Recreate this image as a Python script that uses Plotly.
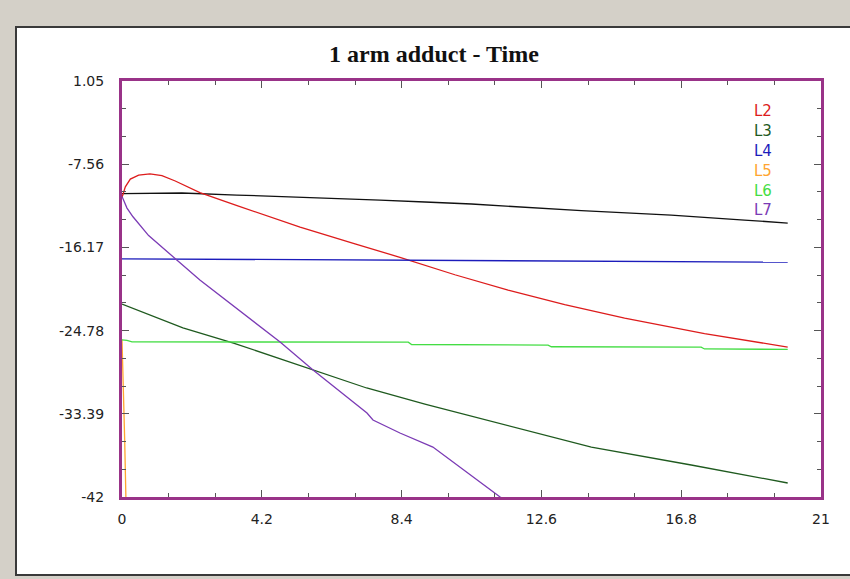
import plotly.graph_objects as go

# ---- data ----
x_tick_vals = [0, 4.2, 8.4, 12.6, 16.8, 21]
x_tick_text = ["0", "4.2", "8.4", "12.6", "16.8", "21"]
y_tick_vals = [1.05, -7.56, -16.17, -24.78, -33.39, -42]
y_tick_text = ["1.05", "-7.56", "-16.17", "-24.78", "-33.39", "-42"]

l1_x = [0, 1.8, 3.45, 5.35, 7.75, 9.1, 10.5, 13.8, 16.5, 18.7, 20.0]
l1_y = [-10.6, -10.54, -10.75, -10.96, -11.27, -11.47, -11.68, -12.37, -12.82, -13.34, -13.65]

l2_x = [0, 0.1, 0.25, 0.5, 0.84, 1.2, 1.6, 2.0, 2.34, 3.5, 5.35, 7.0, 8.35, 10.0, 11.6, 13.3, 15.1, 17.5, 20.0]
l2_y = [-11.0, -9.9, -9.1, -8.7, -8.57, -8.75, -9.3, -9.95, -10.5, -11.9, -14.06, -15.8, -17.2, -19.0, -20.58, -22.1, -23.48, -25.1, -26.48]

l3_x = [0, 1.83, 3.35, 5.65, 7.35, 9.1, 11.5, 14.1, 17.1, 20.0]
l3_y = [-22.03, -24.5, -26.07, -28.7, -30.72, -32.4, -34.55, -36.83, -38.69, -40.55]

l4_x = [0, 6.8, 16.1, 20.0]
l4_y = [-17.35, -17.45, -17.6, -17.7]

l5_x = [0, 0.04, 0.08, 0.12]
l5_y = [-25.7, -30.0, -36.0, -42.5]

l6_x = [0, 0.15, 0.3, 8.6, 8.7, 12.8, 12.9, 17.4, 17.5, 20.0]
l6_y = [-25.75, -25.8, -25.95, -25.97, -26.22, -26.28, -26.45, -26.5, -26.68, -26.72]

l7_x = [0, 0.15, 0.33, 0.63, 0.8, 2.34, 2.73, 4.75, 5.74, 7.36, 7.54, 8.35, 9.34, 10.36, 11.36, 11.8]
l7_y = [-10.9, -12.1, -13.0, -14.2, -14.95, -19.54, -20.58, -25.96, -28.86, -33.31, -34.03, -35.38, -36.83, -39.41, -42.0, -42.9]

series = [
    ("L1", l1_x, l1_y, "#111111", False),
    ("L2", l2_x, l2_y, "#dd1c1c", True),
    ("L3", l3_x, l3_y, "#1f5a1f", True),
    ("L4", l4_x, l4_y, "#1c1cbb", True),
    ("L5", l5_x, l5_y, "#ffa530", True),
    ("L6", l6_x, l6_y, "#44dd44", True),
    ("L7", l7_x, l7_y, "#7b3bb5", True),
]

# ---- layout geometry (pixels) ----
W, H = 850, 579
PL, PR, PT, PB = 122, 821, 81, 497


def px_x(px):
    return (px - PL) / (PR - PL)


def px_y(py):
    return (PB - py) / (PB - PT)


fig = go.Figure()
for name, xs, ys, col, _ in series:
    fig.add_trace(go.Scatter(x=xs, y=ys, mode="lines", name=name,
                             line=dict(color=col, width=1.3),
                             showlegend=False))

# white panel with dark frame (right edge runs past the window)
fig.add_shape(type="rect", xref="paper", yref="paper", layer="below",
              x0=px_x(16), x1=px_x(853), y0=px_y(575), y1=px_y(27),
              fillcolor="white", line=dict(color="#3a3a3a", width=2))

# legend as coloured text
leg_y0 = 111
leg_dy = 19.9
k = 0
for name, xs, ys, col, show in series:
    if not show:
        continue
    fig.add_annotation(text=name, xref="paper", yref="paper",
                       x=px_x(763), y=px_y(leg_y0 + k * leg_dy),
                       xanchor="center", yanchor="middle", showarrow=False,
                       font=dict(family="DejaVu Sans", size=15, color=col))
    k += 1

axis_common = dict(showline=True, linecolor="#993388", linewidth=3,
                   mirror="allticks", ticks="inside", ticklen=7,
                   tickcolor="#555555", tickwidth=1, showgrid=False,
                   zeroline=False,
                   tickfont=dict(family="DejaVu Sans", size=14, color="#222222"))

fig.update_layout(
    width=W, height=H,
    margin=dict(l=PL, r=W - PR, t=PT, b=H - PB),
    paper_bgcolor="#d4d0c8",
    plot_bgcolor="white",
    showlegend=False,
    title=dict(text="<b>1 arm adduct - Time</b>", x=434 / W, y=1 - 54 / H,
               xanchor="center", yanchor="middle", xref="container", yref="container",
               font=dict(family="Liberation Serif", size=24, color="#111111")),
    xaxis=dict(range=[0, 21], tickvals=x_tick_vals, ticktext=x_tick_text,
               minor=dict(dtick=1.4, tick0=0, ticks="inside", ticklen=4,
                          tickcolor="#555555"),
               ticklabelstandoff=7, **axis_common),
    yaxis=dict(range=[-42, 1.05], tickvals=y_tick_vals, ticktext=y_tick_text,
               minor=dict(dtick=2.87, tick0=-42, ticks="inside", ticklen=4,
                          tickcolor="#555555"),
               ticklabelstandoff=12, **axis_common),
)

fig.write_html("out.html", config={"displayModeBar": False})
